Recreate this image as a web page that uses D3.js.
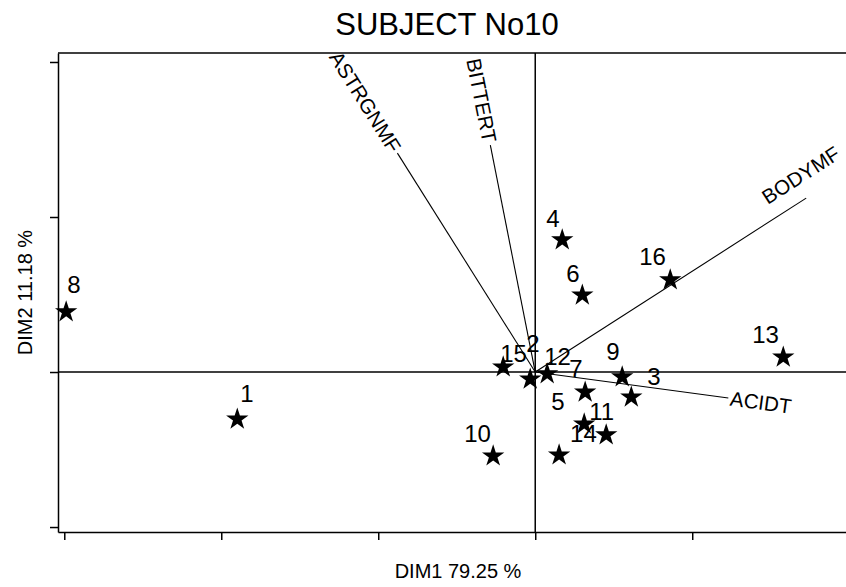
<!DOCTYPE html>
<html lang="en">

<head>
    <meta charset="utf-8">
    <title>SUBJECT No10</title>
    <style>
        body {
            margin: 0;
            background: white;
        }
        svg {
            display: block;
            font-family: "Liberation Sans", Arial, sans-serif;
        }
        .axis path,
        .axis line {
            stroke: black;
            stroke-width: 1.5px;
        }
        .ref {
            stroke: black;
            stroke-width: 1.5px;
        }
        .vector {
            stroke: black;
            stroke-width: 1.1px;
        }
    </style>
</head>

<body>
    <script src="https://cdn.jsdelivr.net/npm/d3@7"></script>
    <script>
        // observations (labels and coordinates on the two dimensions)
        const obsLabels = ['8', '1', '10', '15', '2', '12', '7', '9', '3', '5', '11', '14', '4', '6', '16', '13'];
        const obsDim1 = [-1.494, -0.949, -0.134, -0.102, -0.016, 0.038, 0.159, 0.277, 0.306, 0.156, 0.226, 0.076, 0.086, 0.150, 0.430, 0.790];
        const obsDim2 = [0.194, -0.152, -0.271, 0.016, -0.023, -0.006, -0.065, -0.016, -0.081, -0.168, -0.203, -0.268, 0.426, 0.248, 0.297, 0.048];

        // attribute vectors
        const varNames = ['ASTRGNMF', 'BITTERT', 'BODYMF', 'ACIDT'];
        const varDim1 = [-0.439, -0.143, 0.863, 0.615];
        const varDim2 = [0.706, 0.732, 0.561, -0.084];

        const xTicks = [-1.5, -1, -0.5, 0, 0.5, 1];
        const yTicks = [-0.5, 0, 0.5, 1];

        const titleText = 'SUBJECT No10';
        const xTitle = 'DIM1 79.25 %';
        const yTitle = 'DIM2 11.18 %';

        const W = 846, H = 587;
        const margin = { left: 58, top: 53 };
        const plotW = 800, plotH = 479;

        const svg = d3.select('body')
            .append('svg')
                .attr('width', W)
                .attr('height', H);

        const x = d3.scaleLinear()
            .domain([-1.52, 1.028])
            .range([margin.left, margin.left + plotW]);
        const y = d3.scaleLinear()
            .domain([-0.516, 1.029])
            .range([margin.top + plotH, margin.top]);

        // frame: top edge, plus the two axes
        svg.append('line')
            .attr('class', 'ref')
            .attr('x1', x.range()[0]).attr('x2', x.range()[1])
            .attr('y1', y.range()[1]).attr('y2', y.range()[1]);

        svg.append('g')
            .attr('class', 'axis')
            .attr('transform', `translate(0, ${y.range()[0]})`)
            .call(d3.axisBottom(x).tickValues(xTicks).tickSize(8).tickSizeOuter(0).tickFormat(''));

        svg.append('g')
            .attr('class', 'axis')
            .attr('transform', `translate(${x.range()[0]}, 0)`)
            .call(d3.axisLeft(y).tickValues(yTicks).tickSize(8).tickSizeOuter(0).tickFormat(''));

        // reference lines through the origin
        svg.append('line')
            .attr('class', 'ref')
            .attr('x1', x.range()[0]).attr('x2', x.range()[1])
            .attr('y1', y(0)).attr('y2', y(0));
        svg.append('line')
            .attr('class', 'ref')
            .attr('x1', x(0)).attr('x2', x(0))
            .attr('y1', y.range()[0]).attr('y2', y.range()[1]);

        // vectors
        const vectors = varNames.map((name, i) => ({ name, d1: varDim1[i], d2: varDim2[i] }));
        svg.selectAll('line.vector')
            .data(vectors)
            .join('line')
                .attr('class', 'vector')
                .attr('x1', x(0)).attr('y1', y(0))
                .attr('x2', d => x(d.d1))
                .attr('y2', d => y(d.d2));

        // label placement along (u) and across (v) each vector, px
        const vecLabelPos = {
            ASTRGNMF: { u: 3, v: 0, flip: true },
            BITTERT: { u: 3, v: 0, flip: true },
            BODYMF: { u: -36, v: -15, flip: false, base: true },
            ACIDT: { u: 2, v: 0, flip: false }
        };
        svg.selectAll('text.vlabel')
            .data(vectors)
            .join('text')
                .attr('class', 'vlabel')
                .attr('font-size', 20.5)
                .attr('text-anchor', d => vecLabelPos[d.name].flip ? 'end' : 'start')
                .attr('dy', d => vecLabelPos[d.name].base ? 0 : '0.35em')
                .attr('transform', d => {
                    const ex = x(d.d1), ey = y(d.d2);
                    const dx = ex - x(0), dy = ey - y(0);
                    const len = Math.hypot(dx, dy);
                    const ux = dx / len, uy = dy / len;
                    const p = vecLabelPos[d.name];
                    const px = ex + ux * p.u - uy * p.v;
                    const py = ey + uy * p.u + ux * p.v;
                    let ang = Math.atan2(dy, dx) * 180 / Math.PI;
                    if (p.flip) ang += 180;
                    return `translate(${px}, ${py}) rotate(${ang})`;
                })
                .text(d => d.name);

        // observations as stars
        const points = obsLabels.map((label, i) => ({ label, d1: obsDim1[i], d2: obsDim2[i] }));
        const star = d3.symbol().type(d3.symbolStar).size(155);
        svg.selectAll('path.star')
            .data(points)
            .join('path')
                .attr('class', 'star')
                .attr('d', star)
                .attr('fill', 'black')
                .attr('transform', d => `translate(${x(d.d1)}, ${y(d.d2)})`);

        // label offsets from star centre (text start, baseline), px
        const labelOffset = {
            '8': [1, -19], '1': [3, -17], '10': [-29, -14], '15': [-3, -5],
            '2': [-4, -27], '12': [-3, -9], '7': [-16, -15], '9': [-16, -17],
            '3': [16, -12], '5': [-33, -14], '11': [-17, -15], '14': [11, -13],
            '4': [-16, -13], '6': [-16, -13], '16': [-31, -15], '13': [-31, -14]
        };
        svg.selectAll('text.plabel')
            .data(points)
            .join('text')
                .attr('class', 'plabel')
                .attr('font-size', 24)
                .attr('x', d => x(d.d1) + labelOffset[d.label][0])
                .attr('y', d => y(d.d2) + labelOffset[d.label][1])
                .text(d => d.label);

        // titles
        svg.append('text')
            .attr('x', 447)
            .attr('y', 35)
            .attr('text-anchor', 'middle')
            .attr('font-size', 31)
            .text(titleText);

        svg.append('text')
            .attr('x', margin.left + plotW / 2)
            .attr('y', 578)
            .attr('text-anchor', 'middle')
            .attr('font-size', 20)
            .text(xTitle);

        svg.append('text')
            .attr('transform', `translate(32, ${margin.top + plotH / 2}) rotate(-90)`)
            .attr('text-anchor', 'middle')
            .attr('font-size', 20)
            .text(yTitle);
    </script>
</body>

</html>
